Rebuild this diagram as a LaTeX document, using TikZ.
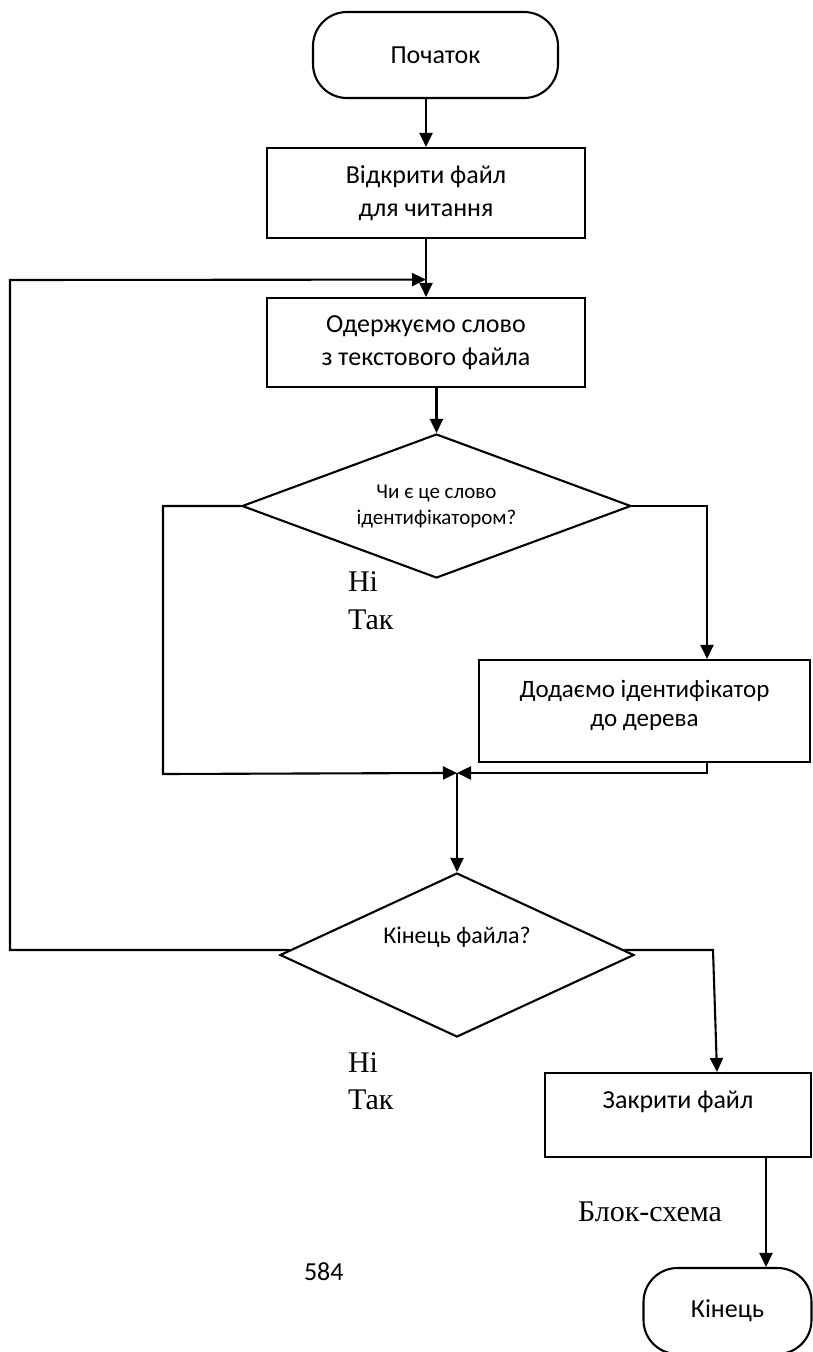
\documentclass[tikz,border=0pt]{standalone}
\usepackage{fontspec}
\setmainfont{Carlito}
\newfontfamily\tnr{Liberation Serif}
\usetikzlibrary{shapes.geometric,arrows.meta,calc}
\begin{document}
\begin{tikzpicture}[x=1pt,y=-1pt,line width=2.1pt,
  box/.style={draw,rectangle,inner sep=0pt,align=center,font=\fontsize{26}{33}\selectfont},
  term/.style={draw,rectangle,rounded corners=34pt,inner sep=0pt,font=\fontsize{26}{33}\selectfont},
  dia/.style={draw,diamond,inner sep=0pt,align=center},
  arr/.style={-{Triangle[length=14pt,width=13pt]}},
  lbl/.style={inner sep=0pt,align=center},
  tnrlbl/.style={font=\tnr\fontsize{30}{34}\selectfont,inner sep=0pt,anchor=west}]
\useasboundingbox (0,0) rectangle (813,1352);
\fill[white] (0,0) rectangle (813,1352);
% nodes
\node[term,minimum width=245pt,minimum height=86pt] (start) at (435.5,55) {Початок};
\node[box,minimum width=318pt,minimum height=90pt] (box2) at (426,193) {Відкрити файл\\для читання};
\node[box,minimum width=318pt,minimum height=89pt] (box3) at (426,342.5) {Одержуємо слово\\з текстового файла};
\node[dia,aspect=2.7,minimum width=389pt,minimum height=144pt,font=\fontsize{21}{26}\selectfont] (d1) at (436.5,506) {Чи є це слово\\ідентифікатором?};
\node[box,minimum width=331pt,minimum height=102pt] (box4) at (644.5,711) {};
\node[lbl,font=\fontsize{25}{29}\selectfont] (box4t) at (644.5,705) {Додаємо ідентифікатор\\до дерева};
\node[dia,aspect=2.16,minimum width=354pt,minimum height=164pt] (d2) at (457,955) {};
\node[lbl,font=\fontsize{24}{28}\selectfont] (d2t) at (457,937) {Кінець файла?};
\node[box,minimum width=266pt,minimum height=84pt] (box5) at (678,1115) {};
\node[lbl,font=\fontsize{26}{30}\selectfont] (box5t) at (678,1102) {Закрити файл};
\node[term,minimum width=168pt,minimum height=86pt] (end) at (727.5,1311) {Кінець};
% labels
\node[tnrlbl] (ni1) at (347,582) {Ні};
\node[tnrlbl] (tak1) at (347,620) {Так};
\node[tnrlbl] (ni2) at (347,1063) {Ні};
\node[tnrlbl] (tak2) at (347,1100) {Так};
\node[tnrlbl] (bs) at (577,1212) {Блок-схема};
\node[font=\fontsize{26}{30}\selectfont,anchor=west,inner sep=0pt] (pg) at (303,1272) {584};
% coordinates
\coordinate (j1) at ($(box2.south)!0.7!(box3.north)$);
\coordinate (lc) at (10,280);
\coordinate (l2) at ($(d2.west)!0.06!(d2.north)$);
\coordinate (r2) at ($(d2.east)!0.06!(d2.north)$);
\coordinate (mg) at ([yshift=99pt]d2.north);
\coordinate (lb) at (163,774);
% connectors
\draw[arr] (box2.north |- start.south) -- (box2.north);
\draw[arr] (box2.south) -- (box3.north);
\draw[arr] (l2) -| (lc) -- (j1);
\draw[arr] (d1.north |- box3.south) -- (d1.north);
\draw[arr] (d1.west) -| (lb) -- (mg);
\draw[arr] (d1.east) -| ([xshift=62.5pt]box4.north);
\draw[arr] ([xshift=62.5pt]box4.south) |- (mg);
\draw[arr] (mg) -- (d2.north);
\draw[arr] (r2) -- ([xshift=35pt]box5.north |- r2) -- ([xshift=39pt]box5.north);
\draw[arr] ([xshift=88pt]box5.south) -- ([xshift=38.5pt]end.north);
\end{tikzpicture}
\end{document}
